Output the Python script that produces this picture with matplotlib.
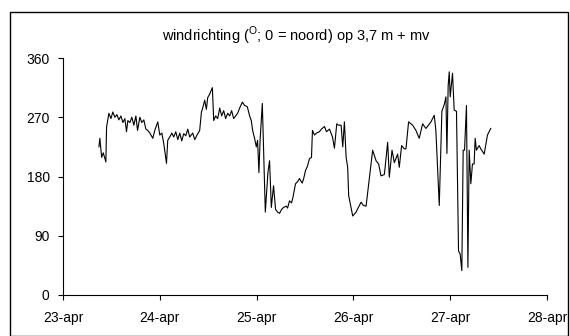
import matplotlib
matplotlib.use("Agg")
import matplotlib.pyplot as plt
from matplotlib.patches import Rectangle

plt.rcParams['font.family'] = ['Liberation Sans', 'DejaVu Sans']
plt.rcParams['mathtext.fontset'] = 'custom'
plt.rcParams['mathtext.rm'] = 'Liberation Sans'

# time in days after 23-apr 00:00
days = [0.371, 0.381, 0.399, 0.416, 0.443, 0.450, 0.474, 0.495, 0.515, 0.536, 0.557, 0.577,
        0.598, 0.619, 0.639, 0.656, 0.670, 0.691, 0.711, 0.732, 0.753, 0.770, 0.794, 0.814,
        0.835, 0.856, 0.876, 0.897, 0.928, 0.948, 0.979, 1.000, 1.021, 1.041, 1.069, 1.082,
        1.103, 1.124, 1.144, 1.165, 1.186, 1.206, 1.227, 1.247, 1.268, 1.289, 1.309, 1.340,
        1.361, 1.381, 1.412, 1.430, 1.443, 1.464, 1.481, 1.495, 1.515, 1.543, 1.557, 1.577,
        1.598, 1.619, 1.639, 1.660, 1.680, 1.701, 1.722, 1.742, 1.763, 1.784, 1.804, 1.825,
        1.853, 1.876, 1.904, 1.928, 1.945, 1.959, 1.979, 1.997, 2.010, 2.024, 2.036, 2.059,
        2.090, 2.117, 2.134, 2.152, 2.175, 2.196, 2.216, 2.237, 2.258, 2.278, 2.306, 2.320,
        2.340, 2.361, 2.375, 2.402, 2.423, 2.443, 2.471, 2.485, 2.505, 2.526, 2.546, 2.567,
        2.577, 2.598, 2.619, 2.649, 2.670, 2.701, 2.722, 2.753, 2.784, 2.804, 2.828, 2.845,
        2.873, 2.890, 2.907, 2.925, 2.941, 2.951, 2.976, 2.993, 3.028, 3.041, 3.079, 3.103,
        3.131, 3.165, 3.199, 3.234, 3.261, 3.285, 3.320, 3.354, 3.371, 3.399, 3.423, 3.457,
        3.474, 3.498, 3.526, 3.543, 3.570, 3.612, 3.646, 3.680, 3.715, 3.749, 3.776, 3.801,
        3.835, 3.852, 3.887, 3.914, 3.938, 3.956, 3.966, 3.979, 3.990, 4.000, 4.024, 4.041,
        4.065, 4.086, 4.103, 4.120, 4.134, 4.148, 4.168, 4.183, 4.196, 4.213, 4.230, 4.247,
        4.258, 4.271, 4.299, 4.316, 4.351, 4.385, 4.419]
direction = [225, 238, 209, 216, 202, 255, 276, 268, 278, 270, 274, 266,
             272, 262, 268, 248, 265, 262, 270, 258, 272, 250, 270, 262,
             266, 252, 250, 246, 238, 250, 263, 243, 246, 230, 200, 235,
             240, 246, 240, 248, 236, 246, 234, 245, 242, 252, 240, 246,
             236, 242, 250, 278, 284, 296, 282, 300, 305, 315, 265, 272,
             268, 284, 272, 280, 268, 276, 272, 280, 268, 272, 276, 284,
             293, 288, 286, 272, 265, 250, 238, 225, 235, 186, 235, 291,
             126, 186, 204, 133, 166, 130, 126, 124, 130, 133, 135, 132,
             143, 140, 148, 169, 172, 177, 170, 176, 189, 196, 207, 209,
             250, 243, 246, 248, 252, 256, 248, 252, 240, 223, 260, 258,
             258, 225, 263, 209, 194, 151, 133, 120, 126, 130, 141, 136,
             135, 177, 220, 204, 199, 181, 183, 232, 179, 220, 201, 214,
             194, 227, 222, 222, 263, 258, 250, 238, 260, 253, 258, 263,
             273, 250, 136, 279, 289, 301, 215, 318, 339, 301, 337, 281,
             279, 67, 62, 37, 220, 220, 288, 42, 220, 169, 199, 199,
             238, 220, 227, 222, 214, 243, 253]

xtick_labels = ['23-apr', '24-apr', '25-apr', '26-apr', '27-apr', '28-apr']
yticks = [0, 90, 180, 270, 360]

W, H = 570, 336
fig = plt.figure(figsize=(W / 100, H / 100), dpi=100)
fig.patches.append(Rectangle((10 / W, 0), (568 - 10) / W, (H - 12) / H,
                             transform=fig.transFigure, fill=False,
                             edgecolor='black', linewidth=1.0))

ax = fig.add_axes([63 / W, 1 - 295 / H, (547 - 63) / W, (295 - 58) / H])
ax.plot(days, direction, color='black', linewidth=0.8)
ax.set_xlim(0, 5)
ax.set_ylim(0, 360)
ax.set_xticks(range(len(xtick_labels)))
ax.set_xticklabels(xtick_labels)
ax.set_yticks(yticks)
for s in ['top', 'right']:
    ax.spines[s].set_visible(False)
for s in ['left', 'bottom']:
    ax.spines[s].set_linewidth(0.8)
    ax.spines[s].set_color('black')
ax.tick_params(axis='both', labelsize=10, length=3.6, width=0.8, colors='black')
ax.tick_params(axis='x', pad=8)
ax.tick_params(axis='y', pad=6)
fig.text(297 / W, 1 - 36 / H, r"windrichting ($^{\mathrm{O}}$; 0 = noord) op 3,7 m + mv",
         ha='center', va='center', fontsize=10.5)

fig.savefig('out.png', dpi=100)
